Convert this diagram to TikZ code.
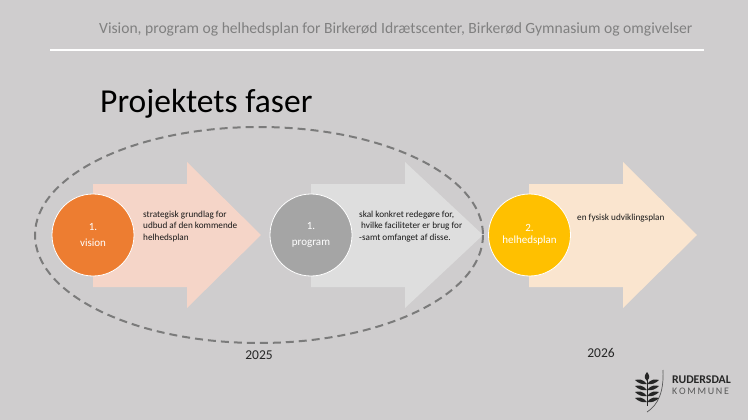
\documentclass[tikz,border=0pt]{standalone}
\usepackage{fontspec}
\setmainfont{Carlito}
\definecolor{zbg}{HTML}{CFCDCE}
\definecolor{zorange}{HTML}{ED7D31}
\definecolor{zgray}{HTML}{A5A5A5}
\definecolor{zyellow}{HTML}{FFC000}
\definecolor{zdash}{HTML}{7B7B7B}
\definecolor{zarrowa}{HTML}{F5D5C8}
\definecolor{zarrowb}{HTML}{DEDEDE}
\definecolor{zarrowc}{HTML}{FAE5CF}
\tikzset{
  zphase/.style={circle, draw=white, line width=.8, minimum size=82, inner sep=0, text=white, font=\fontsize{11}{16}\selectfont, align=center},
  zdesc/.style={anchor=north west, inner sep=0, align=left, text=black!90, font=\fontsize{9.2}{11.5}\selectfont},
  zyear/.style={font=\fontsize{13.5}{15}\selectfont, text=black!85, inner sep=0},
  zleaf/.style={fill=black!85, draw=none},
}
\begin{document}
\begin{tikzpicture}[x=1pt, y=-1pt]
  \fill[zbg] (0,0) rectangle (748,420);
  \useasboundingbox (0,0) rectangle (748,420);
  % header
  \node[anchor=west, inner sep=0, text=black!50, font=\fontsize{15.6}{18}\selectfont] (header) at (99,29) {Vision, program og helhedsplan for Birkerød Idrætscenter, Birkerød Gymnasium og omgivelser};
  \draw[white, line width=2] (50,50) -- (704,50);
  \node[anchor=base west, inner sep=0, text=black, font=\fontsize{33.5}{40}\selectfont] (title) at (100,113) {Projektets faser};
  % arrows
  \foreach \x/\t/\c in {93/168/zarrowa, 311/172/zarrowb, 529/168/zarrowc}{
    \fill[\c] (\x,184) -- (\x+94,184) -- (\x+94,162) -- (\x+\t,235) -- (\x+94,308) -- (\x+94,287) -- (\x,287) -- cycle;
  }
  \node[zphase, fill=zorange] (vision) at (93,235) {1.\\vision};
  \node[zphase, fill=zgray] (program) at (311,235) {1.\\program};
  \node[zphase, fill=zyellow, font=\fontsize{11}{12}\selectfont] (helhedsplan) at (529.5,235) {2.\\helhedsplan};
  \node[zdesc] (visiontxt) at (143,210.5) {strategisk grundlag for\\udbud af den kommende\\helhedsplan};
  \node[zdesc] (programtxt) at (359,210.5) {skal konkret redegøre for,\\\hspace*{2pt}hvilke faciliteter er brug for\\-samt omfanget af disse.};
  \node[zdesc] (helhedtxt) at (577,214) {en fysisk udviklingsplan};
  % 2025 group
  \draw[zdash, line width=2, dash pattern=on 8pt off 5pt] (259,235) ellipse (224 and 108);
  \node[zyear] (yeara) at (259,355) {2025};
  \node[zyear] (yearb) at (601,353) {2026};
  % logo
  \draw[black!65, line width=.7] (663,370) .. controls (664,392) and (658,405) .. (647,412);
  \draw[black!85, line width=.8] (647,376) -- (647,406);
  \foreach \y in {384,390,396,402}{
    \fill[zleaf] (647,\y) .. controls (643,\y-5) and (639,\y-5) .. (635,\y-4) .. controls (638,\y-1) and (642,\y+1) .. (647,\y);
    \fill[zleaf] (647,\y) .. controls (651,\y-5) and (655,\y-5) .. (659,\y-4) .. controls (656,\y-1) and (652,\y+1) .. (647,\y);
  }
  \fill[zleaf] (647,381) .. controls (643,377) and (645,375) .. (647,372) .. controls (649,375) and (651,377) .. (647,381);
  \node[anchor=west, inner sep=0, text=black!85, font=\bfseries\fontsize{11.8}{12}\selectfont] (logoa) at (672,380) {RUDERSDAL};
  \node[anchor=west, inner sep=0, text=black!65, font=\fontsize{10}{11}\selectfont] (logob) at (672,391) {K\,O\,M\,M\,U\,N\,E};
\end{tikzpicture}
\end{document}
